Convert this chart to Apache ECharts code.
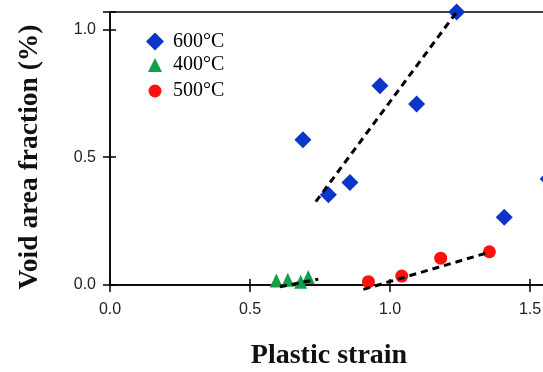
<!DOCTYPE html>
<html>
<head>
<meta charset="utf-8">
<script src="https://cdn.jsdelivr.net/npm/echarts@6/dist/echarts.min.js"></script>
<style>html,body{margin:0;padding:0;background:#fff;}#c{width:543px;height:372px;}</style>
</head>
<body>
<div id="c"></div>
<script>
// ---- data ----
const names = ['600°C', '400°C', '500°C'];
const t600x = [0.689, 0.780, 0.857, 0.964, 1.095, 1.238, 1.408, 1.565];
const t600y = [0.568, 0.353, 0.401, 0.779, 0.708, 1.068, 0.265, 0.415];
const t400x = [0.594, 0.635, 0.681, 0.708];
const t400y = [0.018, 0.021, 0.013, 0.031];
const t500x = [0.923, 1.042, 1.181, 1.355];
const t500y = [0.013, 0.035, 0.105, 0.130];
// dashed trend lines (end points)
const fit600x = [0.735, 1.238];
const fit600y = [0.326, 1.068];
const fit400x = [0.607, 0.744];
const fit400y = [-0.007, 0.023];
const fit500x = [0.905, 1.351];
const fit500y = [-0.017, 0.127];
// axes
const xTicks = [0, 0.5, 1.0, 1.5];
const yTicks = [0, 0.5, 1.0];
const xMax = 1.5643;
const yMax = 1.068;
const xTitle = 'Plastic strain';
const yTitle = 'Void area fraction (%)';

const pairs = (xs, ys) => xs.map((x, i) => [x, ys[i]]);
const colors = ['#0c35c9', '#13a048', '#ff1010'];
const serif = '"Liberation Serif", "Times New Roman", serif';
const sans = '"Liberation Sans", Arial, sans-serif';

const lbl = { fontFamily: sans, fontSize: 16, color: '#222' };
const axisLine = { show: true, lineStyle: { color: '#000', width: 1.5 } };
const tickStyle = { color: '#000', width: 1.5 };

function legendAt(name, icon, size, top) {
  return {
    orient: 'vertical', left: 146 + (18 - size) / 2, top: top, padding: 0,
    data: [{ name: name, icon: icon }],
    itemWidth: size, itemHeight: size,
    textStyle: { fontFamily: serif, fontSize: 20, color: '#000', lineHeight: 20, padding: [0, 0, 0, 4 + (18 - size) / 2] },
    selectedMode: false
  };
}

const chart = echarts.init(document.getElementById('c'), null, { renderer: 'canvas' });
chart.setOption({
  animation: false,
  backgroundColor: '#fff',
  grid: {
    left: 110, top: 12, width: 438, height: 273, containLabel: false, outerBoundsMode: 'none',
    show: true, borderColor: '#000', borderWidth: 1.5, backgroundColor: 'transparent'
  },
  legend: [
    legendAt(names[0], 'diamond', 18, 31.5),
    legendAt(names[1], 'triangle', 14, 55),
    legendAt(names[2], 'circle', 13, 81)
  ],
  xAxis: [
    {
      type: 'value', min: 0, max: xMax, interval: 0.5, position: 'bottom',
      axisLine: axisLine,
      axisTick: { show: true, length: 7, lineStyle: tickStyle },
      axisLabel: Object.assign({ margin: 17, customValues: xTicks, formatter: v => v.toFixed(1) }, lbl),
      splitLine: { show: false },
      name: xTitle, nameLocation: 'middle', nameGap: 57,
      nameTextStyle: { fontFamily: serif, fontWeight: 'bold', fontSize: 28, color: '#111' }
    },
    {
      type: 'value', min: 0, max: xMax, interval: 0.5, position: 'bottom',
      axisLine: { show: false },
      axisTick: { show: true, inside: true, length: 6, lineStyle: tickStyle },
      axisLabel: { show: false }, splitLine: { show: false }
    }
  ],
  yAxis: [
    {
      type: 'value', min: 0, max: yMax, interval: 0.5, position: 'left',
      axisLine: axisLine,
      axisTick: { show: true, length: 7, lineStyle: tickStyle },
      axisLabel: Object.assign({ margin: 14, customValues: yTicks, formatter: v => v.toFixed(1) }, lbl),
      splitLine: { show: false },
      name: yTitle, nameLocation: 'middle', nameGap: 66, nameRotate: 90,
      nameTextStyle: { fontFamily: serif, fontWeight: 'bold', fontSize: 27.5, color: '#111', padding: [0, 17, 0, 0] }
    },
    {
      type: 'value', min: 0, max: yMax, interval: 0.5, position: 'left',
      axisLine: { show: false },
      axisTick: { show: true, inside: true, length: 6, lineStyle: tickStyle },
      axisLabel: { show: false }, splitLine: { show: false }
    }
  ],
  series: [
    { name: names[0], type: 'scatter', symbol: 'diamond', symbolSize: 17, itemStyle: { color: colors[0], opacity: 1 }, data: pairs(t600x, t600y), clip: false },
    { name: names[1], type: 'scatter', symbol: 'triangle', symbolSize: [13, 14], itemStyle: { color: colors[1], opacity: 1 }, data: pairs(t400x, t400y), clip: false },
    { name: names[2], type: 'scatter', symbol: 'circle', symbolSize: 13, itemStyle: { color: colors[2], opacity: 1 }, data: pairs(t500x, t500y), clip: false },
    { name: 'fit600', type: 'line', showSymbol: false, symbol: 'none', clip: false, data: pairs(fit600x, fit600y), lineStyle: { color: '#000', width: 3, type: [7, 5] } },
    { name: 'fit400', type: 'line', showSymbol: false, symbol: 'none', clip: false, data: pairs(fit400x, fit400y), lineStyle: { color: '#000', width: 3, type: [7, 5] } },
    { name: 'fit500', type: 'line', showSymbol: false, symbol: 'none', clip: false, data: pairs(fit500x, fit500y), lineStyle: { color: '#000', width: 3, type: [7, 5] } }
  ]
});
</script>
</body>
</html>
